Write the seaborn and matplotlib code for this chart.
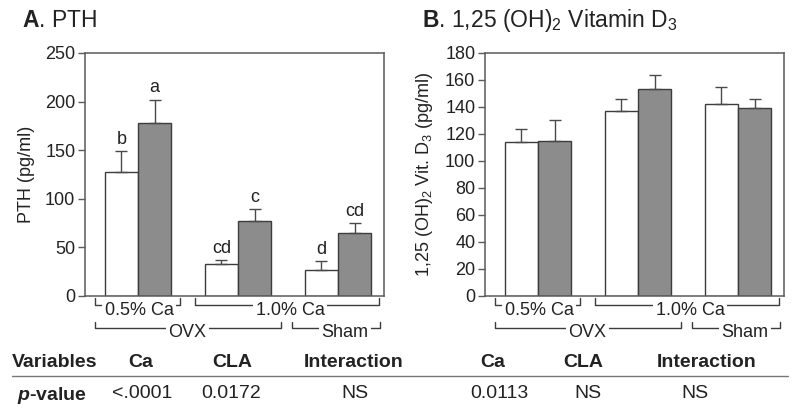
import matplotlib
matplotlib.use("Agg")
import pandas as pd
import matplotlib.pyplot as plt
import seaborn as sns

# --- data ---
groups = ["OVX 0.5% Ca", "OVX 1.0% Ca", "Sham 1.0% Ca"]
diets = ["Control", "CLA"]

pth_control = [128, 33, 27]
pth_control_se = [21, 4, 9]
pth_cla = [178, 77, 65]
pth_cla_se = [24, 12, 10]
pth_letters_control = ["b", "cd", "d"]
pth_letters_cla = ["a", "c", "cd"]

vitd_control = [114, 137, 142]
vitd_control_se = [10, 9, 13]
vitd_cla = [114.5, 153, 139]
vitd_cla_se = [15.5, 10.5, 7]

table_header = ["Ca", "CLA", "Interaction", "Ca", "CLA", "Interaction"]
table_pvalues = ["<.0001", "0.0172", "NS", "0.0113", "NS", "NS"]

# --- style ---
sns.set_style("ticks")
plt.rcParams["font.family"] = ["Liberation Sans", "DejaVu Sans"]
plt.rcParams["mathtext.fontset"] = "custom"
plt.rcParams["mathtext.rm"] = "Liberation Sans"
plt.rcParams["mathtext.bf"] = "Liberation Sans:bold"
plt.rcParams["mathtext.it"] = "Liberation Sans:italic:bold"
plt.rcParams["mathtext.default"] = "regular"

TXT = "#222222"
EDGE = "#3c3c3c"
SPINE = "#5a5a5a"
GRAY = "#8c8c8c"


def draw_panel(ax, ctrl, ctrl_se, cla, cla_se, ymax, ystep, ylabel, letters=None):
    df = pd.DataFrame({
        "group": groups * 2,
        "diet": [diets[0]] * 3 + [diets[1]] * 3,
        "value": ctrl + cla,
    })
    sns.barplot(data=df, x="group", y="value", hue="diet", hue_order=diets,
                palette={"Control": "white", "CLA": GRAY}, saturation=1,
                width=0.667, edgecolor=EDGE, linewidth=1, errorbar=None,
                legend=False, ax=ax, zorder=2)

    if letters is None:
        letters = [[""] * 3, [""] * 3]
    for cont, se, labs in zip(ax.containers, [ctrl_se, cla_se], letters):
        for bar, e, lab in zip(cont, se, labs):
            x = bar.get_x() + bar.get_width() / 2
            h = bar.get_height()
            ax.errorbar(x, h, yerr=[[0], [e]], fmt="none", ecolor="#4a4a4a",
                        elinewidth=1, capsize=4.3, capthick=1, zorder=3)
            if lab:
                ax.annotate(lab, (x, h + e), xytext=(0, 2.5),
                            textcoords="offset points", ha="center",
                            va="bottom", fontsize=13, color=TXT)

    ax.set_xlim(-0.53, 2.46)
    ax.set_ylim(0, ymax)
    ax.set_yticks(range(0, ymax + 1, ystep))
    ax.set_xticks([])
    ax.set_xlabel("")
    ax.set_ylabel(ylabel, fontsize=13, color=TXT)
    ax.yaxis.set_label_coords(-0.166, 0.5)
    for s in ax.spines.values():
        s.set_visible(True)
        s.set_color(SPINE)
        s.set_linewidth(1.1)
    ax.tick_params(axis="y", direction="out", length=5, width=1,
                   color=SPINE, labelsize=13, labelcolor=TXT, pad=2)

    # group brackets under the axis
    tr = ax.get_xaxis_transform()
    brackets = [
        (-0.43, 0.42, 0.01, "0.5% Ca", -0.008, -0.039, -0.053),
        (0.57, 2.41, 1.52, "1.0% Ca", -0.008, -0.039, -0.053),
        (-0.43, 1.43, 0.495, "OVX", -0.105, -0.132, -0.142),
        (1.54, 2.42, 2.07, "Sham", -0.105, -0.132, -0.142),
    ]
    for x0, x1, xt, lab, ytop, yline, ytxt in brackets:
        ax.plot([x0, x0, x1, x1], [ytop, yline, yline, ytop], transform=tr,
                color=EDGE, lw=1, clip_on=False)
        ax.text(xt, ytxt, lab, transform=tr, ha="center", va="center_baseline",
                fontsize=13, color=TXT,
                bbox=dict(facecolor="white", edgecolor="none", pad=1.5))


fig = plt.figure(figsize=(8, 4.13), dpi=100)
axA = fig.add_axes([0.10625, 0.2833, 0.37375, 0.5884])
axB = fig.add_axes([0.60625, 0.2833, 0.37375, 0.5884])

draw_panel(axA, pth_control, pth_control_se, pth_cla, pth_cla_se, 250, 50,
           "PTH (pg/ml)", letters=[pth_letters_control, pth_letters_cla])
draw_panel(axB, vitd_control, vitd_control_se, vitd_cla, vitd_cla_se, 180, 20,
           r"1,25 (OH)$_2$ Vit. D$_3$ (pg/ml)")

# panel titles
fig.text(22 / 800, (413 - 27.3) / 413, r"$\mathbf{A}$. PTH", fontsize=16.5,
         va="baseline", color=TXT)
fig.text(422 / 800, (413 - 27.3) / 413, r"$\mathbf{B}$. 1,25 (OH)$_2$ Vitamin D$_3$",
         fontsize=16.5, va="baseline", color=TXT)

# statistics table
header_x = [141, 232, 354, 493, 583, 707]
value_x = [142, 231, 355, 499, 588, 695]
y_head = (413 - 360.7) / 413
y_val = (413 - 392) / 413
fig.text(12 / 800, y_head, "Variables", fontsize=14, fontweight="bold",
         va="center_baseline", color=TXT)
fig.text(17 / 800, y_val, r"$\mathit{p}$-value", fontsize=14, fontweight="bold",
         va="center_baseline", color=TXT)
for x, lab in zip(header_x, table_header):
    fig.text(x / 800, y_head, lab, fontsize=14, fontweight="bold", ha="center",
             va="center_baseline", color=TXT)
for x, lab in zip(value_x, table_pvalues):
    fig.text(x / 800, y_val, lab, fontsize=14, ha="center",
             va="center_baseline", color=TXT)
y_line = (413 - 375.7) / 413
fig.add_artist(plt.Line2D([12 / 800, 788 / 800], [y_line, y_line],
                          transform=fig.transFigure, color="#777777", lw=1))

fig.savefig("out.png", dpi=100)
